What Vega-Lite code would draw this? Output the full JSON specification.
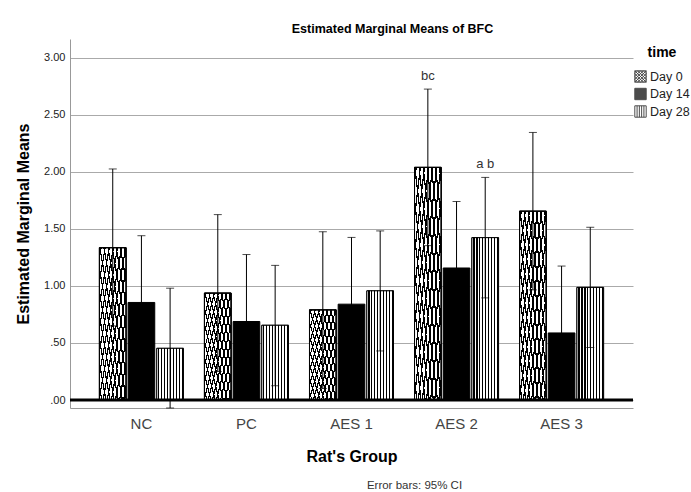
{
  "$schema": "https://vega.github.io/schema/vega-lite/v6.json",
  "autosize": "none",
  "width": 563,
  "height": 369,
  "padding": {"left": 70, "top": 39, "right": 58, "bottom": 84},
  "config": {"font": "Liberation Sans", "view": {"stroke": null}},
  "title": {"text": "Estimated Marginal Means of BFC", "fontSize": 12.5, "fontWeight": "bold", "anchor": "middle", "dx": 41, "offset": 4, "color": "black"},
  "data": {"values": [
    {"group": "NC", "time": "Day 0", "mean": 1.335, "lo": 0.65, "hi": 2.025, "label": ""},
    {"group": "NC", "time": "Day 14", "mean": 0.855, "lo": 0.27, "hi": 1.44, "label": ""},
    {"group": "NC", "time": "Day 28", "mean": 0.453, "lo": -0.07, "hi": 0.98, "label": ""},
    {"group": "PC", "time": "Day 0", "mean": 0.937, "lo": 0.25, "hi": 1.625, "label": ""},
    {"group": "PC", "time": "Day 14", "mean": 0.688, "lo": 0.1, "hi": 1.275, "label": ""},
    {"group": "PC", "time": "Day 28", "mean": 0.655, "lo": 0.125, "hi": 1.18, "label": ""},
    {"group": "AES 1", "time": "Day 0", "mean": 0.79, "lo": 0.1, "hi": 1.475, "label": ""},
    {"group": "AES 1", "time": "Day 14", "mean": 0.84, "lo": 0.255, "hi": 1.425, "label": ""},
    {"group": "AES 1", "time": "Day 28", "mean": 0.957, "lo": 0.43, "hi": 1.482, "label": ""},
    {"group": "AES 2", "time": "Day 0", "mean": 2.039, "lo": 1.353, "hi": 2.725, "label": "bc"},
    {"group": "AES 2", "time": "Day 14", "mean": 1.157, "lo": 0.574, "hi": 1.74, "label": ""},
    {"group": "AES 2", "time": "Day 28", "mean": 1.423, "lo": 0.895, "hi": 1.951, "label": "a b"},
    {"group": "AES 3", "time": "Day 0", "mean": 1.655, "lo": 0.965, "hi": 2.345, "label": ""},
    {"group": "AES 3", "time": "Day 14", "mean": 0.588, "lo": 0.0, "hi": 1.174, "label": ""},
    {"group": "AES 3", "time": "Day 28", "mean": 0.987, "lo": 0.46, "hi": 1.514, "label": ""}
  ]},
  "resolve": {"axis": {"x": "independent"}},
  "layer": [
    {
      "mark": {"type": "bar", "stroke": "black", "strokeWidth": 1},
      "encoding": {
        "x": {"field": "group", "type": "nominal", "scale": {"domain": ["NC", "PC", "AES 1", "AES 2", "AES 3"], "paddingInner": 0.2, "paddingOuter": 0.28},
          "axis": {"title": "Rat's Group", "titleFontSize": 16, "titleFontWeight": "bold", "titleColor": "black", "titlePadding": 17, "labelFontSize": 15, "labelColor": "#444", "labelPadding": 8, "labelAngle": 0, "ticks": false, "domainColor": "#999", "grid": false}},
        "xOffset": {"field": "time", "type": "nominal", "scale": {"domain": ["Day 0", "Day 14", "Day 28"], "paddingInner": 0.07, "paddingOuter": 0}},
        "y": {"field": "mean", "type": "quantitative", "title": "Estimated Marginal Means", "scale": {"domain": [-0.07, 3.164], "nice": false},
          "axis": {"titleFontSize": 16, "titleFontWeight": "bold", "titleColor": "black", "titlePadding": 12, "values": [0, 0.5, 1, 1.5, 2, 2.5, 3], "labelExpr": "datum.value < 1 ? substring(format(datum.value, '.2f'), 1) : format(datum.value, '.2f')", "labelFontSize": 11, "labelColor": "#222", "labelPadding": 5, "ticks": false, "domainColor": "#999", "gridColor": "#aaaaaa"}},
        "color": {"field": "time", "type": "nominal", "scale": {"domain": ["Day 0", "Day 14", "Day 28"], "range": ["#ffffff", "#000000", "#ffffff"]},
          "legend": {"title": "time", "orient": "none", "legendX": 564, "legendY": 7, "padding": 0, "titleFontSize": 14, "titleFontWeight": "bold", "titleColor": "black", "titleAnchor": "middle", "titlePadding": 10, "labelFontSize": 12.5, "labelColor": "#222", "labelOffset": 3, "symbolSize": 130, "symbolStrokeColor": "black", "symbolStrokeWidth": 1, "rowPadding": 0.5}}
      }
    },
    {
      "transform": [{"filter": "datum.mean > 100"}],
      "mark": {"type": "point", "filled": true},
      "encoding": {
        "x": {"field": "group", "type": "nominal", "scale": {"domain": ["NC", "PC", "AES 1", "AES 2", "AES 3"], "paddingInner": 0.2, "paddingOuter": 0.28}, "axis": null},
        "xOffset": {"field": "time", "type": "nominal", "scale": {"domain": ["Day 0", "Day 14", "Day 28"], "paddingInner": 0.07, "paddingOuter": 0}},
        "y": {"field": "mean", "type": "quantitative", "title": "Estimated Marginal Means"},
        "color": {"field": "time", "type": "nominal", "scale": {"domain": ["Day 0", "Day 14", "Day 28"], "range": ["#ffffff", "#000000", "#ffffff"]},
          "legend": {"title": "time", "orient": "none", "legendX": 564, "legendY": 7, "padding": 0, "titleFontSize": 14, "titleFontWeight": "bold", "titleColor": "black", "titleAnchor": "middle", "titlePadding": 10, "labelFontSize": 12.5, "labelColor": "#222", "labelOffset": 3, "symbolSize": 130, "symbolStrokeColor": "black", "symbolStrokeWidth": 1, "rowPadding": 0.5}},
        "shape": {"field": "time", "type": "nominal", "scale": {"domain": ["Day 0", "Day 14", "Day 28"], "range": [
          "M-1,-1H1V1H-1Z M-1,-1L1,1 M-0.5,-1L1,0.5 M0,-1L1,0 M0.5,-1L1,-0.5 M-1,-0.5L0.5,1 M-1,0L0,1 M-1,0.5L-0.5,1 M-1,1L1,-1 M-0.5,1L1,-0.5 M0,1L1,0 M0.5,1L1,0.5 M-1,0.5L0.5,-1 M-1,0L0,-1 M-1,-0.5L-0.5,-1",
          "M-1,-1H1V1H-1Z",
          "M-1,-1H1V1H-1Z M-0.6,-1V1 M-0.2,-1V1 M0.2,-1V1 M0.6,-1V1"
        ]},
          "legend": {"title": "time", "orient": "none", "legendX": 564, "legendY": 7, "padding": 0, "titleFontSize": 14, "titleFontWeight": "bold", "titleColor": "black", "titleAnchor": "middle", "titlePadding": 10, "labelFontSize": 12.5, "labelColor": "#222", "labelOffset": 3, "symbolSize": 130, "symbolStrokeColor": "black", "symbolStrokeWidth": 1, "rowPadding": 0.5}}
      }
    },
    {
      "transform": [{"filter": "datum.time === 'Day 28'"}],
      "mark": {"type": "bar", "stroke": "black", "strokeWidth": 1, "fill": {"gradient": "linear", "x1": 0, "y1": 0, "x2": 1, "y2": 0, "stops": [
        {"offset": 0, "color": "#fff"},
        {"offset": 0.055, "color": "#fff"}, {"offset": 0.055, "color": "#000"}, {"offset": 0.1, "color": "#000"}, {"offset": 0.1, "color": "#fff"},
        {"offset": 0.1661, "color": "#fff"}, {"offset": 0.1661, "color": "#000"}, {"offset": 0.2111, "color": "#000"}, {"offset": 0.2111, "color": "#fff"},
        {"offset": 0.2772, "color": "#fff"}, {"offset": 0.2772, "color": "#000"}, {"offset": 0.3222, "color": "#000"}, {"offset": 0.3222, "color": "#fff"},
        {"offset": 0.3883, "color": "#fff"}, {"offset": 0.3883, "color": "#000"}, {"offset": 0.4333, "color": "#000"}, {"offset": 0.4333, "color": "#fff"},
        {"offset": 0.4994, "color": "#fff"}, {"offset": 0.4994, "color": "#000"}, {"offset": 0.5444, "color": "#000"}, {"offset": 0.5444, "color": "#fff"},
        {"offset": 0.6106, "color": "#fff"}, {"offset": 0.6106, "color": "#000"}, {"offset": 0.6556, "color": "#000"}, {"offset": 0.6556, "color": "#fff"},
        {"offset": 0.7217, "color": "#fff"}, {"offset": 0.7217, "color": "#000"}, {"offset": 0.7667, "color": "#000"}, {"offset": 0.7667, "color": "#fff"},
        {"offset": 0.8328, "color": "#fff"}, {"offset": 0.8328, "color": "#000"}, {"offset": 0.8778, "color": "#000"}, {"offset": 0.8778, "color": "#fff"},
        {"offset": 0.9439, "color": "#fff"}, {"offset": 0.9439, "color": "#000"}, {"offset": 0.9889, "color": "#000"}, {"offset": 0.9889, "color": "#fff"},
        {"offset": 1, "color": "#fff"}]}},
      "encoding": {
        "x": {"field": "group", "type": "nominal", "scale": {"domain": ["NC", "PC", "AES 1", "AES 2", "AES 3"], "paddingInner": 0.2, "paddingOuter": 0.28}, "axis": null},
        "xOffset": {"field": "time", "type": "nominal", "scale": {"domain": ["Day 0", "Day 14", "Day 28"], "paddingInner": 0.07, "paddingOuter": 0}},
        "y": {"field": "mean", "type": "quantitative", "title": "Estimated Marginal Means"}
      }
    },
    {
      "transform": [{"filter": "datum.time === 'Day 0'"}],
      "mark": {"type": "bar", "stroke": "black", "strokeWidth": 1, "fill": {"gradient": "linear", "x1": 0, "y1": 0, "x2": 1, "y2": 1, "stops": [
        {"offset": 0, "color": "rgba(0,0,0,0)"},
        {"offset": 0.02, "color": "rgba(0,0,0,0)"}, {"offset": 0.02, "color": "#000"}, {"offset": 0.043, "color": "#000"}, {"offset": 0.043, "color": "rgba(0,0,0,0)"},
        {"offset": 0.0969, "color": "rgba(0,0,0,0)"}, {"offset": 0.0969, "color": "#000"}, {"offset": 0.12, "color": "#000"}, {"offset": 0.12, "color": "rgba(0,0,0,0)"},
        {"offset": 0.1738, "color": "rgba(0,0,0,0)"}, {"offset": 0.1738, "color": "#000"}, {"offset": 0.1969, "color": "#000"}, {"offset": 0.1969, "color": "rgba(0,0,0,0)"},
        {"offset": 0.2508, "color": "rgba(0,0,0,0)"}, {"offset": 0.2508, "color": "#000"}, {"offset": 0.2739, "color": "#000"}, {"offset": 0.2739, "color": "rgba(0,0,0,0)"},
        {"offset": 0.3277, "color": "rgba(0,0,0,0)"}, {"offset": 0.3277, "color": "#000"}, {"offset": 0.3508, "color": "#000"}, {"offset": 0.3508, "color": "rgba(0,0,0,0)"},
        {"offset": 0.4046, "color": "rgba(0,0,0,0)"}, {"offset": 0.4046, "color": "#000"}, {"offset": 0.4277, "color": "#000"}, {"offset": 0.4277, "color": "rgba(0,0,0,0)"},
        {"offset": 0.4815, "color": "rgba(0,0,0,0)"}, {"offset": 0.4815, "color": "#000"}, {"offset": 0.5046, "color": "#000"}, {"offset": 0.5046, "color": "rgba(0,0,0,0)"},
        {"offset": 0.5585, "color": "rgba(0,0,0,0)"}, {"offset": 0.5585, "color": "#000"}, {"offset": 0.5816, "color": "#000"}, {"offset": 0.5816, "color": "rgba(0,0,0,0)"},
        {"offset": 0.6354, "color": "rgba(0,0,0,0)"}, {"offset": 0.6354, "color": "#000"}, {"offset": 0.6585, "color": "#000"}, {"offset": 0.6585, "color": "rgba(0,0,0,0)"},
        {"offset": 0.7123, "color": "rgba(0,0,0,0)"}, {"offset": 0.7123, "color": "#000"}, {"offset": 0.7354, "color": "#000"}, {"offset": 0.7354, "color": "rgba(0,0,0,0)"},
        {"offset": 0.7892, "color": "rgba(0,0,0,0)"}, {"offset": 0.7892, "color": "#000"}, {"offset": 0.8123, "color": "#000"}, {"offset": 0.8123, "color": "rgba(0,0,0,0)"},
        {"offset": 0.8662, "color": "rgba(0,0,0,0)"}, {"offset": 0.8662, "color": "#000"}, {"offset": 0.8893, "color": "#000"}, {"offset": 0.8893, "color": "rgba(0,0,0,0)"},
        {"offset": 0.9431, "color": "rgba(0,0,0,0)"}, {"offset": 0.9431, "color": "#000"}, {"offset": 0.9662, "color": "#000"}, {"offset": 0.9662, "color": "rgba(0,0,0,0)"},
        {"offset": 1, "color": "rgba(0,0,0,0)"}]}},
      "encoding": {
        "x": {"field": "group", "type": "nominal", "scale": {"domain": ["NC", "PC", "AES 1", "AES 2", "AES 3"], "paddingInner": 0.2, "paddingOuter": 0.28}, "axis": null},
        "xOffset": {"field": "time", "type": "nominal", "scale": {"domain": ["Day 0", "Day 14", "Day 28"], "paddingInner": 0.07, "paddingOuter": 0}},
        "y": {"field": "mean", "type": "quantitative", "title": "Estimated Marginal Means"}
      }
    },
    {
      "transform": [{"filter": "datum.time === 'Day 0'"}],
      "mark": {"type": "bar", "stroke": "black", "strokeWidth": 1, "fill": {"gradient": "linear", "x1": 1, "y1": 0, "x2": 0, "y2": 1, "stops": [
        {"offset": 0, "color": "rgba(0,0,0,0)"},
        {"offset": 0.02, "color": "rgba(0,0,0,0)"}, {"offset": 0.02, "color": "#000"}, {"offset": 0.043, "color": "#000"}, {"offset": 0.043, "color": "rgba(0,0,0,0)"},
        {"offset": 0.0969, "color": "rgba(0,0,0,0)"}, {"offset": 0.0969, "color": "#000"}, {"offset": 0.12, "color": "#000"}, {"offset": 0.12, "color": "rgba(0,0,0,0)"},
        {"offset": 0.1738, "color": "rgba(0,0,0,0)"}, {"offset": 0.1738, "color": "#000"}, {"offset": 0.1969, "color": "#000"}, {"offset": 0.1969, "color": "rgba(0,0,0,0)"},
        {"offset": 0.2508, "color": "rgba(0,0,0,0)"}, {"offset": 0.2508, "color": "#000"}, {"offset": 0.2739, "color": "#000"}, {"offset": 0.2739, "color": "rgba(0,0,0,0)"},
        {"offset": 0.3277, "color": "rgba(0,0,0,0)"}, {"offset": 0.3277, "color": "#000"}, {"offset": 0.3508, "color": "#000"}, {"offset": 0.3508, "color": "rgba(0,0,0,0)"},
        {"offset": 0.4046, "color": "rgba(0,0,0,0)"}, {"offset": 0.4046, "color": "#000"}, {"offset": 0.4277, "color": "#000"}, {"offset": 0.4277, "color": "rgba(0,0,0,0)"},
        {"offset": 0.4815, "color": "rgba(0,0,0,0)"}, {"offset": 0.4815, "color": "#000"}, {"offset": 0.5046, "color": "#000"}, {"offset": 0.5046, "color": "rgba(0,0,0,0)"},
        {"offset": 0.5585, "color": "rgba(0,0,0,0)"}, {"offset": 0.5585, "color": "#000"}, {"offset": 0.5816, "color": "#000"}, {"offset": 0.5816, "color": "rgba(0,0,0,0)"},
        {"offset": 0.6354, "color": "rgba(0,0,0,0)"}, {"offset": 0.6354, "color": "#000"}, {"offset": 0.6585, "color": "#000"}, {"offset": 0.6585, "color": "rgba(0,0,0,0)"},
        {"offset": 0.7123, "color": "rgba(0,0,0,0)"}, {"offset": 0.7123, "color": "#000"}, {"offset": 0.7354, "color": "#000"}, {"offset": 0.7354, "color": "rgba(0,0,0,0)"},
        {"offset": 0.7892, "color": "rgba(0,0,0,0)"}, {"offset": 0.7892, "color": "#000"}, {"offset": 0.8123, "color": "#000"}, {"offset": 0.8123, "color": "rgba(0,0,0,0)"},
        {"offset": 0.8662, "color": "rgba(0,0,0,0)"}, {"offset": 0.8662, "color": "#000"}, {"offset": 0.8893, "color": "#000"}, {"offset": 0.8893, "color": "rgba(0,0,0,0)"},
        {"offset": 0.9431, "color": "rgba(0,0,0,0)"}, {"offset": 0.9431, "color": "#000"}, {"offset": 0.9662, "color": "#000"}, {"offset": 0.9662, "color": "rgba(0,0,0,0)"},
        {"offset": 1, "color": "rgba(0,0,0,0)"}]}},
      "encoding": {
        "x": {"field": "group", "type": "nominal", "scale": {"domain": ["NC", "PC", "AES 1", "AES 2", "AES 3"], "paddingInner": 0.2, "paddingOuter": 0.28}, "axis": null},
        "xOffset": {"field": "time", "type": "nominal", "scale": {"domain": ["Day 0", "Day 14", "Day 28"], "paddingInner": 0.07, "paddingOuter": 0}},
        "y": {"field": "mean", "type": "quantitative", "title": "Estimated Marginal Means"}
      }
    },
    {
      "mark": {"type": "rule", "color": "black", "strokeWidth": 1},
      "encoding": {
        "x": {"field": "group", "type": "nominal", "scale": {"domain": ["NC", "PC", "AES 1", "AES 2", "AES 3"], "paddingInner": 0.2, "paddingOuter": 0.28}, "axis": null},
        "xOffset": {"field": "time", "type": "nominal", "scale": {"domain": ["Day 0", "Day 14", "Day 28"], "paddingInner": 0.07, "paddingOuter": 0}},
        "y": {"field": "lo", "type": "quantitative", "title": "Estimated Marginal Means"},
        "y2": {"field": "hi"}
      }
    },
    {
      "mark": {"type": "tick", "orient": "horizontal", "color": "black", "size": 8, "thickness": 1},
      "encoding": {
        "x": {"field": "group", "type": "nominal", "scale": {"domain": ["NC", "PC", "AES 1", "AES 2", "AES 3"], "paddingInner": 0.2, "paddingOuter": 0.28}, "axis": null},
        "xOffset": {"field": "time", "type": "nominal", "scale": {"domain": ["Day 0", "Day 14", "Day 28"], "paddingInner": 0.07, "paddingOuter": 0}},
        "y": {"field": "hi", "type": "quantitative", "title": "Estimated Marginal Means"}
      }
    },
    {
      "mark": {"type": "tick", "orient": "horizontal", "color": "black", "size": 8, "thickness": 1},
      "encoding": {
        "x": {"field": "group", "type": "nominal", "scale": {"domain": ["NC", "PC", "AES 1", "AES 2", "AES 3"], "paddingInner": 0.2, "paddingOuter": 0.28}, "axis": null},
        "xOffset": {"field": "time", "type": "nominal", "scale": {"domain": ["Day 0", "Day 14", "Day 28"], "paddingInner": 0.07, "paddingOuter": 0}},
        "y": {"field": "lo", "type": "quantitative", "title": "Estimated Marginal Means"}
      }
    },
    {
      "data": {"values": [{"z": 0}]},
      "mark": {"type": "rule", "color": "black", "strokeWidth": 3},
      "encoding": {"y": {"datum": 0, "type": "quantitative", "title": "Estimated Marginal Means"}}
    },
    {
      "transform": [{"filter": "datum.label !== ''"}],
      "mark": {"type": "text", "baseline": "bottom", "dy": -6, "fontSize": 13, "color": "#333"},
      "encoding": {
        "x": {"field": "group", "type": "nominal", "scale": {"domain": ["NC", "PC", "AES 1", "AES 2", "AES 3"], "paddingInner": 0.2, "paddingOuter": 0.28},
          "axis": {"orient": "bottom", "title": "Error bars: 95% CI", "titleFontWeight": "normal", "titleFontSize": 11.5, "titleColor": "#333", "titleX": 344, "titleY": 77, "titleBaseline": "middle", "labels": false, "ticks": false, "domain": false, "grid": false}},
        "xOffset": {"field": "time", "type": "nominal", "scale": {"domain": ["Day 0", "Day 14", "Day 28"], "paddingInner": 0.07, "paddingOuter": 0}},
        "y": {"field": "hi", "type": "quantitative", "title": "Estimated Marginal Means"},
        "text": {"field": "label"}
      }
    }
  ]
}
